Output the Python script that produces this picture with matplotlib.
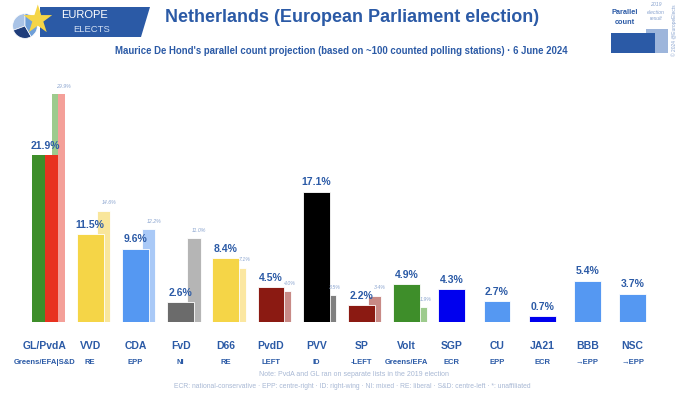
import matplotlib
matplotlib.use("Agg")
import matplotlib.pyplot as plt
import matplotlib.transforms as mtransforms
from matplotlib.patches import Polygon, Rectangle, Wedge

parties = ["GL/PvdA", "VVD", "CDA", "FvD", "D66", "PvdD", "PVV", "SP", "Volt",
           "SGP", "CU", "JA21", "BBB", "NSC"]
groups = ["Greens/EFA|S&D", "RE", "EPP", "NI", "RE", "LEFT", "ID", "-LEFT",
          "Greens/EFA", "ECR", "EPP", "ECR", "→EPP", "→EPP"]
values = [21.9, 11.5, 9.6, 2.6, 8.4, 4.5, 17.1, 2.2, 4.9, 4.3, 2.7, 0.7, 5.4, 3.7]
prev = [29.9, 14.6, 12.2, 11.0, 7.1, 4.0, 3.5, 3.4, 1.9, None, None, None, None, None]
colors = ["#3e8e2a", "#f5d547", "#5598f2", "#6b6b6b", "#f5d547", "#8b1a12",
          "#000000", "#8b1a12", "#3e8e2a", "#0000ee", "#5598f2", "#0000ee",
          "#5598f2", "#5598f2"]
prev_colors = ["#9dcb8d", "#f9e69b", "#a9c9f7", "#b5b5b5", "#fbe7a1", "#c88a86",
               "#808080", "#c88a86", "#9dcb8d", None, None, None, None, None]
split_main = ("#3e8e2a", "#e8321f")
split_prev = ("#9dcb8d", "#f4a099")

BLUE = "#2b5aa6"
FONT = ["Liberation Sans", "DejaVu Sans"]
plt.rcParams["font.family"] = FONT

W, H = 680, 396
fig = plt.figure(figsize=(W / 100, H / 100), dpi=100)
fig.patch.set_facecolor("white")

ax = fig.add_axes([0, (H - 321.7) / H, 1, (321.7 - 60) / H])
spacing = 45.2
ax.set_xlim(-45 / spacing, 13 + (W - 632.6) / spacing)
ax.set_ylim(0, (321.7 - 60) / 7.61)
ax.axis("off")

mw = 26.7 / spacing
pw = 13.3 / spacing
off = 13.3 / spacing

for i, (v, p) in enumerate(zip(values, prev)):
    if p is not None:
        if i == 0:
            ax.bar(i + off - pw / 4, p, width=pw / 2, color=split_prev[0], zorder=1)
            ax.bar(i + off + pw / 4, p, width=pw / 2, color=split_prev[1], zorder=1)
        else:
            ax.bar(i + off, p, width=pw, color=prev_colors[i], zorder=1,
                   edgecolor="white", linewidth=0.6)
        ax.text(i + off + 0.12, p + 0.7, f"{p:.1f}%", ha="center", va="bottom",
                fontsize=3.8, style="italic", color="#8aa4cf", zorder=3)
    if i == 0:
        ax.bar(i - mw / 4, v, width=mw / 2, color=split_main[0], zorder=2)
        ax.bar(i + mw / 4, v, width=mw / 2, color=split_main[1], zorder=2)
    else:
        ax.bar(i, v, width=mw, color=colors[i], zorder=2,
               edgecolor="white", linewidth=0.6)
    ax.text(i, v + 0.55, f"{v:.1f}%", ha="center", va="bottom", fontsize=7.5,
            fontweight="bold", color=BLUE, zorder=3)

trans = mtransforms.blended_transform_factory(ax.transData, fig.transFigure)
for i, (pname, g) in enumerate(zip(parties, groups)):
    ax.text(i, 1 - 346 / H, pname, transform=trans, ha="center", va="center",
            fontsize=7.5, fontweight="bold", color=BLUE)
    ax.text(i, 1 - 362 / H, g, transform=trans, ha="center", va="center",
            fontsize=5.5, fontweight="bold", color=BLUE)

fig.text(0.52, 1 - 375 / H,
         "Note: PvdA and GL ran on separate lists in the 2019 election",
         ha="center", va="center", fontsize=5.0, color="#a8b8d4")
fig.text(0.518, 1 - 387 / H,
         "ECR: national-conservative · EPP: centre-right · ID: right-wing · NI: mixed · "
         "RE: liberal · S&D: centre-left · *: unaffiliated",
         ha="center", va="center", fontsize=4.9, color="#a8b8d4")

# title and subtitle
fig.text(352 / W, 1 - 18 / H, "Netherlands (European Parliament election)",
         ha="center", va="center", fontsize=13, fontweight="bold", color=BLUE)
fig.text(341 / W, 1 - 51 / H,
         "Maurice De Hond's parallel count projection (based on ~100 counted polling stations) · 6 June 2024",
         ha="center", va="center", fontsize=6.9, fontweight="bold", color=BLUE)

# logo
def px(x, y):
    return (x / W, 1 - y / H)

logo = Polygon([px(40, 7), px(150, 7), px(141, 37), px(40, 37)], closed=True,
               transform=fig.transFigure, facecolor="#2b5aa6", edgecolor="none")
fig.patches.append(logo)
lax = fig.add_axes([12 / W, 1 - 39 / H, 26 / W, 26 / H])
lax.set_xlim(-1, 1)
lax.set_ylim(-1, 1)
lax.set_aspect("equal")
lax.axis("off")
for (a1, a2, c) in [(90, 200, "#a9c3e6"), (200, 300, "#1f3d7a"), (300, 450, "#6f9fd8")]:
    lax.add_patch(Wedge((0, 0), 0.95, a1, a2, facecolor=c, edgecolor="white", linewidth=0.5))
fig.text(37 / W, 1 - 22 / H, "★", fontsize=27, color="#f5d547", ha="center",
         va="center", family="DejaVu Sans")
fig.text(84 / W, 1 - 15 / H, "EUROPE", fontsize=8, color="white", ha="center",
         va="center")
fig.text(92 / W, 1 - 30 / H, "ELECTS", fontsize=6.8, color="#d0def2", ha="center",
         va="center")

# legend box top right
fig.patches.append(Rectangle(px(646, 53), 22 / W, 24 / H, transform=fig.transFigure,
                             facecolor="#9db5db", edgecolor="none"))
fig.patches.append(Rectangle(px(611, 53), 44 / W, 20 / H, transform=fig.transFigure,
                             facecolor="#2b5aa6", edgecolor="none"))
fig.text(625 / W, 1 - 12 / H, "Parallel", fontsize=5.3, fontweight="bold",
         color=BLUE, ha="center", va="center")
fig.text(625 / W, 1 - 23 / H, "count", fontsize=5.3, fontweight="bold",
         color=BLUE, ha="center", va="center")
fig.text(656 / W, 1 - 5 / H, "2019", fontsize=3.8, style="italic",
         color="#8aa4cf", ha="center", va="center")
fig.text(656 / W, 1 - 12 / H, "election", fontsize=3.8, style="italic",
         color="#8aa4cf", ha="center", va="center")
fig.text(656 / W, 1 - 19 / H, "result", fontsize=3.8, style="italic",
         color="#8aa4cf", ha="center", va="center")
fig.text(674 / W, 1 - 30 / H, "© 2024 @EuropeElects", fontsize=3.5, rotation=90,
         color="#8aa4cf", ha="center", va="center")

fig.savefig("out.png", dpi=100, facecolor="white")
